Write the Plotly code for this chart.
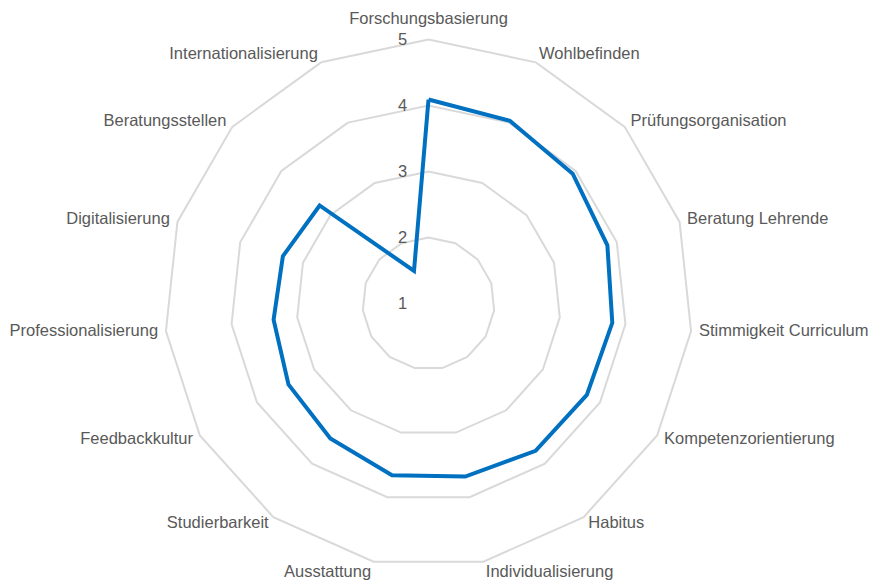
import math
import plotly.graph_objects as go

categories = ["Forschungsbasierung", "Wohlbefinden", "Prüfungsorganisation", "Beratung Lehrende",
              "Stimmigkeit Curriculum", "Kompetenzorientierung", "Habitus", "Individualisierung",
              "Ausstattung", "Studierbarkeit", "Feedbackkultur", "Professionalisierung",
              "Digitalisierung", "Beratungsstellen", "Internationalisierung"]
values = [4.09, 4.03, 3.94, 3.85, 3.80, 3.77, 3.76, 3.68, 3.66, 3.53, 3.45, 3.36, 3.32, 3.22, 1.54]
radial_ticks = [1, 2, 3, 4, 5]

grid = "#d9d9d9"
txt = "#595959"
FS = 16.5
FONT = "Liberation Sans, Arial, sans-serif"
R_MAX = 5.19

fig = go.Figure()
fig.add_trace(go.Scatterpolar(
    r=values + values[:1],
    theta=categories + categories[:1],
    mode="lines",
    line=dict(color="#0070C0", width=4),
    hoverinfo="skip",
))

# category labels: text placed just beyond the outer ring, drawn through the polar scales
n = len(categories)
positions, label_r = [], []
for i in range(n):
    th = 2 * math.pi * i / n
    s, c = math.sin(th), math.cos(th)
    if abs(s) < 0.1:
        positions.append("top center")
    elif s > 0:
        positions.append("middle right")
    else:
        positions.append("middle left")
    label_r.append(5.18 if abs(c) > 0.97 else 5.12)
fig.add_trace(go.Scatterpolar(
    r=label_r,
    theta=categories,
    mode="text",
    text=categories,
    textposition=positions,
    textfont=dict(family=FONT, size=FS, color=txt),
    cliponaxis=False,
    hoverinfo="skip",
))

W, H = 870, 588
cx, cy, R5 = 428.5, 303.5, 264          # centre and pixel radius of the r=5 ring
RD = R5 * (R_MAX - 1) / 4
pad = "\u00a0" * 4
fig.update_layout(
    width=W, height=H,
    margin=dict(l=0, r=0, t=0, b=0),
    paper_bgcolor="white",
    showlegend=False,
    font=dict(family=FONT, size=FS, color=txt),
    polar=dict(
        domain=dict(x=[(cx - RD) / W, (cx + RD) / W], y=[(H - cy - RD) / H, (H - cy + RD) / H]),
        bgcolor="rgba(0,0,0,0)",
        gridshape="linear",
        radialaxis=dict(
            range=[1, R_MAX], tickvals=radial_ticks, ticktext=[str(t) + pad for t in radial_ticks],
            angle=90, side="counterclockwise", tickangle=90, showline=False, ticks="",
            gridcolor=grid, gridwidth=2, tickfont=dict(family=FONT, size=FS, color=txt),
        ),
        angularaxis=dict(
            rotation=90, direction="clockwise", showgrid=False,
            showline=False, ticks="", showticklabels=False,
        ),
    ),
)

fig.write_html(
    "out.html",
    config={"displayModeBar": False},
    post_script="document.body.style.margin='0';document.body.style.overflow='hidden';",
)
